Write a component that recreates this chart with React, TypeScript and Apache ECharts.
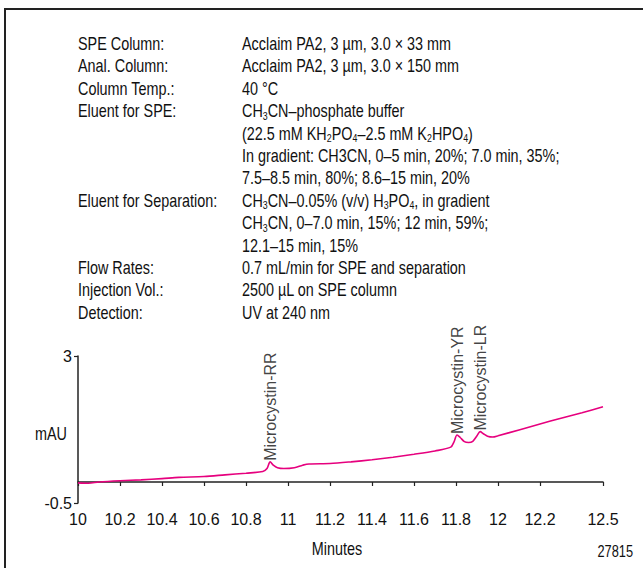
import React, { useEffect, useRef } from "react";
import * as echarts from "echarts";

const FONT = "'Liberation Sans', Arial, Helvetica, sans-serif";
const SX = 0.8; // horizontal squeeze to imitate a condensed face

// chromatogram trace (minutes, mAU)
const times = [
  10.0, 10.05, 10.1, 10.2, 10.3, 10.4, 10.48, 10.6, 10.7, 10.8, 10.88, 10.9, 10.915, 10.93, 10.95, 10.98,
  11.03, 11.07, 11.1, 11.2, 11.3, 11.4, 11.5, 11.6, 11.7, 11.775, 11.79, 11.805, 11.82, 11.84, 11.86,
  11.88, 11.9, 11.915, 11.93, 11.95, 11.975, 12.0, 12.1, 12.2, 12.3, 12.4, 12.5,
];
const signal = [
  -0.02, -0.03, 0.0, 0.03, 0.05, 0.08, 0.11, 0.13, 0.17, 0.21, 0.25, 0.32, 0.48, 0.4, 0.34, 0.32,
  0.34, 0.4, 0.43, 0.44, 0.48, 0.53, 0.59, 0.66, 0.74, 0.83, 0.95, 1.12, 1.06, 0.96, 0.94,
  0.97, 1.1, 1.2, 1.15, 1.09, 1.07, 1.1, 1.24, 1.38, 1.52, 1.65, 1.79,
];

const peakNames = ["Microcystin-RR", "Microcystin-YR", "Microcystin-LR"];
const peakTimes = [10.915, 11.805, 11.915];

const xTicks = [10, 10.2, 10.4, 10.6, 10.8, 11, 11.2, 11.4, 11.6, 11.8, 12, 12.2, 12.5];
const yTicks = [-0.5, 3];

const condLabels = [
  "SPE Column:",
  "Anal. Column:",
  "Column Temp.:",
  "Eluent for SPE:",
  "",
  "",
  "",
  "Eluent for Separation:",
  "",
  "",
  "Flow Rates:",
  "Injection Vol.:",
  "Detection:",
];
const condValues = [
  "Acclaim PA2, 3 µm, 3.0 × 33 mm",
  "Acclaim PA2, 3 µm, 3.0 × 150 mm",
  "40 °C",
  "CH{s|3}CN–phosphate buffer",
  "(22.5 mM KH{s|2}PO{s|4}–2.5 mM K{s|2}HPO{s|4})",
  "In gradient: CH3CN, 0–5 min, 20%; 7.0 min, 35%;",
  "7.5–8.5 min, 80%; 8.6–15 min, 20%",
  "CH{s|3}CN–0.05% (v/v) H{s|3}PO{s|4}, in gradient",
  "CH{s|3}CN, 0–7.0 min, 15%; 12 min, 59%;",
  "12.1–15 min, 15%",
  "0.7 mL/min for SPE and separation",
  "2500 µL on SPE column",
  "UV at 240 nm",
];

function toRich(s: string) {
  const parts: string[] = [];
  const re = /\{s\|([^}]*)\}/g;
  let last = 0;
  let m: RegExpExecArray | null;
  while ((m = re.exec(s))) {
    if (m.index > last) parts.push("{a|" + s.slice(last, m.index) + "}");
    parts.push("{s|" + m[1] + "}");
    last = m.index + m[0].length;
  }
  if (last < s.length) parts.push("{a|" + s.slice(last) + "}");
  return parts.join("");
}

export default function App() {
  const ref = useRef<HTMLDivElement>(null);
  useEffect(() => {
    if (!ref.current) return;
    const chart = echarts.init(ref.current, null, { renderer: "svg" });
    const lineData = times.map((t, i) => [t, signal[i]]);
    const peakData = peakTimes.map((t, i) => {
      const idx = times.indexOf(t);
      return { value: [t, signal[idx]], name: peakNames[i] };
    });
    const textColor = "#111";
    const fs = 18;
    const lineH = 22.4;
    const top0 = 43.3;
    const graphics: any[] = [
      {
        type: "rect",
        shape: { x: 5, y: 9, width: 800, height: 700 },
        style: { fill: "none", stroke: "#222", lineWidth: 2 },
        silent: true,
      },
    ];
    condLabels.forEach((l, i) => {
      if (!l) return;
      graphics.push({
        type: "text",
        x: 78,
        y: top0 + i * lineH,
        scaleX: SX,
        style: { text: l, font: `${fs}px ${FONT}`, fill: textColor, verticalAlign: "middle", align: "left" },
      });
    });
    condValues.forEach((v, i) => {
      graphics.push({
        type: "text",
        x: 242,
        y: top0 + i * lineH,
        scaleX: SX,
        style: {
          text: toRich(v),
          verticalAlign: "middle",
          align: "left",
          rich: {
            a: { font: `${fs}px ${FONT}`, fill: textColor, lineHeight: 22 },
            s: { font: `11px ${FONT}`, fill: textColor, lineHeight: 11, padding: [11, 0, 0, 0] },
          },
        },
      });
    });
    graphics.push(
      {
        type: "text",
        x: 67,
        y: 433,
        scaleX: SX,
        style: { text: "mAU", font: `18px ${FONT}`, fill: textColor, align: "right", verticalAlign: "middle" },
      },
      {
        type: "text",
        x: 337,
        y: 548,
        scaleX: SX,
        style: { text: "Minutes", font: `18px ${FONT}`, fill: textColor, align: "center", verticalAlign: "middle" },
      },
      {
        type: "text",
        x: 633,
        y: 551,
        scaleX: SX,
        style: { text: "27815", font: `16px ${FONT}`, fill: textColor, align: "right", verticalAlign: "middle" },
      }
    );

    chart.setOption({
      animation: false,
      backgroundColor: "#fff",
      grid: { left: 78, right: 40, top: 356, bottom: 65 },
      xAxis: {
        type: "value",
        min: 10,
        max: 12.5,
        axisLine: { lineStyle: { color: "#222", width: 1.5 } },
        axisTick: { customValues: xTicks, length: 4, lineStyle: { color: "#222", width: 1.2 } },
        axisLabel: {
          customValues: xTicks,
          color: textColor,
          fontFamily: FONT,
          fontSize: 16,
          margin: 8,
        },
        splitLine: { show: false },
      },
      yAxis: {
        type: "value",
        min: -0.5,
        max: 3,
        axisLine: { show: true, lineStyle: { color: "#222", width: 1.5 } },
        axisTick: { show: true, customValues: yTicks, length: 4, lineStyle: { color: "#222", width: 1.2 } },
        axisLabel: {
          customValues: yTicks,
          color: textColor,
          fontFamily: FONT,
          fontSize: 16,
          margin: 6,
        },
        splitLine: { show: false },
      },
      series: [
        {
          type: "line",
          data: lineData,
          showSymbol: false,
          smooth: 0.3,
          lineStyle: { color: "#e6007e", width: 1.6 },
          silent: true,
        },
        {
          type: "scatter",
          data: peakData,
          symbolSize: 0,
          silent: true,
          label: {
            show: true,
            formatter: "{b}",
            position: "top",
            distance: 4,
            rotate: 90,
            align: "left",
            verticalAlign: "middle",
            offset: [-3, 0],
            color: textColor,
            fontFamily: FONT,
            fontSize: 16,
          },
        },
      ],
      graphic: graphics,
    });
    return () => chart.dispose();
  }, []);
  return <div ref={ref} style={{ position: "absolute", left: 0, top: 0, width: 643, height: 568 }} />;
}
